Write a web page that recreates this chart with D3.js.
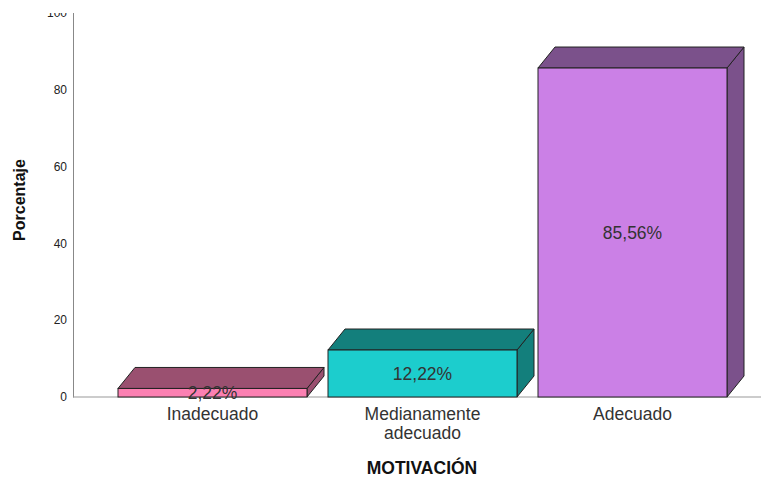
<!DOCTYPE html>
<html>
<head>
<meta charset="utf-8">
<script src="https://cdn.jsdelivr.net/npm/d3@7"></script>
<style>
  body { margin: 0; background: #fff; }
  text { font-family: Arial, "Liberation Sans", sans-serif; }
</style>
</head>
<body>
<script>
// data
const categories = ['Inadecuado', 'Medianamente\nadecuado', 'Adecuado']
const values = [2.22, 12.22, 85.56]
const labels = ['2,22%', '12,22%', '85,56%']
const yTicks = [0, 20, 40, 60, 80, 100]

const frontColors = ['#fb80b2', '#1ccdcd', '#cb80e6']
const darkColors = ['#9a5070', '#137f7c', '#7b518b']

const width = 761
const height = 478
const depth = {dx: 17, dy: -21}

const x = d3.scaleBand()
  .domain(categories)
  .range([107.5, 737.5])
  .paddingInner(0.1)
  .paddingOuter(0.05)

const y = d3.scaleLinear().domain([0, 100]).range([397, 12.5])

const svg = d3.select('body').append('svg')
  .attr('width', width)
  .attr('height', height)

svg.append('defs').append('clipPath').attr('id', 'topclip')
  .append('rect').attr('x', -100).attr('y', 13).attr('width', width).attr('height', height)

// y axis
const yAxis = svg.append('g')
  .attr('transform', 'translate(73,0)')
  .attr('clip-path', 'url(#topclip)')
  .call(d3.axisLeft(y).tickValues(yTicks).tickSize(0).tickPadding(6))
yAxis.select('.domain').attr('stroke', '#888')
yAxis.selectAll('text').attr('font-size', 12).attr('fill', '#222')
  .attr('font-family', 'Arial, "Liberation Sans", sans-serif')

// baseline
svg.append('line')
  .attr('x1', 73).attr('x2', width)
  .attr('y1', y(0)).attr('y2', y(0))
  .attr('stroke', '#999')

// bars
const bars = svg.append('g').selectAll('g')
  .data(categories)
  .join('g')

bars.each(function (c, i) {
  const g = d3.select(this)
  const x0 = x(c)
  const x1 = x0 + x.bandwidth()
  const yt = y(values[i])
  const yb = y(0)
  const {dx, dy} = depth

  // side
  g.append('path')
    .attr('d', `M${x1},${yt}L${x1 + dx},${yt + dy}L${x1 + dx},${yb + dy}L${x1},${yb}Z`)
    .attr('fill', darkColors[i]).attr('stroke', '#222').attr('stroke-width', 1)
  // top
  g.append('path')
    .attr('d', `M${x0},${yt}L${x0 + dx},${yt + dy}L${x1 + dx},${yt + dy}L${x1},${yt}Z`)
    .attr('fill', darkColors[i]).attr('stroke', '#222').attr('stroke-width', 1)
  // front
  g.append('rect')
    .attr('x', x0).attr('y', yt)
    .attr('width', x.bandwidth()).attr('height', yb - yt)
    .attr('fill', frontColors[i]).attr('stroke', '#222').attr('stroke-width', 1)

  g.append('text')
    .attr('x', (x0 + x1) / 2)
    .attr('y', (yt + yb) / 2)
    .attr('dy', '0.35em')
    .attr('text-anchor', 'middle')
    .attr('font-size', 17.5)
    .attr('fill', '#333')
    .text(labels[i])
})

// category labels
svg.append('g').selectAll('text')
  .data(categories)
  .join('text')
  .attr('x', (d) => x(d) + x.bandwidth() / 2)
  .attr('y', 420)
  .attr('text-anchor', 'middle')
  .attr('font-size', 17.5)
  .attr('fill', '#333')
  .selectAll('tspan')
  .data((d) => d.split('\n'))
  .join('tspan')
  .attr('x', function () { return d3.select(this.parentNode).attr('x') })
  .attr('dy', (d, j) => j === 0 ? 0 : '1.1em')
  .text((d) => d)

// axis titles
svg.append('text')
  .attr('transform', 'translate(25,200) rotate(-90)')
  .attr('text-anchor', 'middle')
  .attr('font-size', 16)
  .attr('font-weight', 'bold')
  .attr('fill', '#111')
  .text('Porcentaje')

svg.append('text')
  .attr('x', 422)
  .attr('y', 474)
  .attr('text-anchor', 'middle')
  .attr('font-size', 17.5)
  .attr('font-weight', 'bold')
  .attr('fill', '#111')
  .text('MOTIVACIÓN')
</script>
</body>
</html>
